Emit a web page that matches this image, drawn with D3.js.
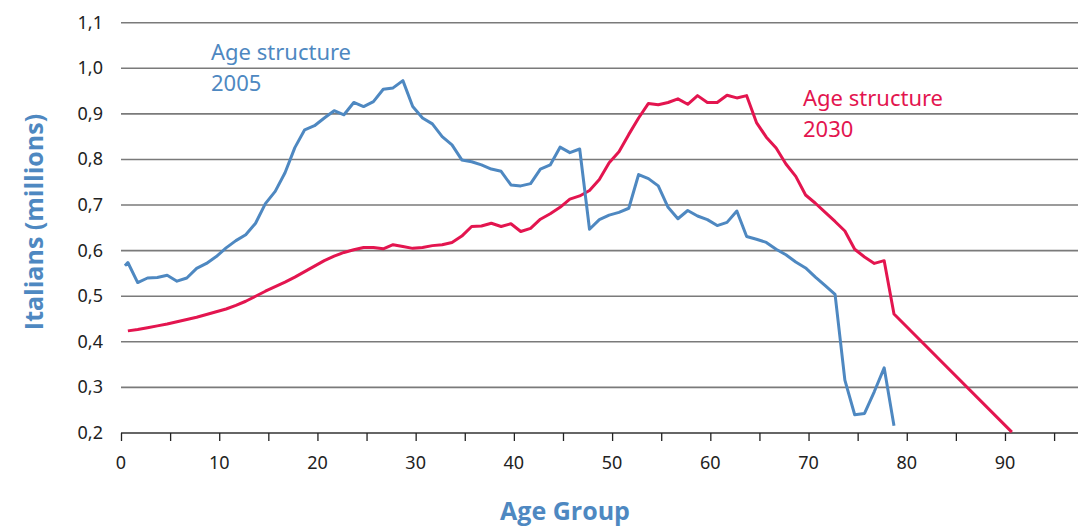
<!DOCTYPE html>
<html><head><meta charset="utf-8">
<script src="https://cdn.jsdelivr.net/npm/d3@7"></script>
<style>body{margin:0;background:#fff}svg{display:block}</style>
</head><body>
<svg id="c" width="1078" height="529"></svg>
<script>
// ---- data ----
const yTicks = [0.2,0.3,0.4,0.5,0.6,0.7,0.8,0.9,1.0,1.1];
const xTicks = [0,10,20,30,40,50,60,70,80,90];
const ages2005 = [0.7].concat(d3.range(1, 80));
const values2005 = [0.567,0.574,0.530,0.540,0.541,0.546,0.533,0.540,0.561,0.572,
  0.587,0.606,0.622,0.635,0.660,0.703,0.730,0.771,0.826,0.865,
  0.874,0.891,0.907,0.898,0.925,0.916,0.927,0.954,0.957,0.973,
  0.916,0.891,0.878,0.850,0.832,0.799,0.795,0.788,0.779,0.774,
  0.744,0.742,0.747,0.779,0.788,0.827,0.815,0.823,0.647,0.668,
  0.678,0.684,0.693,0.767,0.758,0.742,0.695,0.670,0.688,0.676,
  0.668,0.655,0.662,0.687,0.631,0.625,0.618,0.603,0.591,0.575,
  0.562,0.542,0.523,0.504,0.316,0.240,0.243,0.291,0.343,0.216];
const ages2030 = d3.range(1, 80).concat([91]);
const values2030 = [0.424,0.427,0.431,0.435,0.439,0.444,0.449,0.454,0.460,
  0.466,0.472,0.480,0.489,0.500,0.511,0.521,0.531,0.542,0.554,
  0.566,0.578,0.588,0.596,0.602,0.607,0.607,0.604,0.613,0.609,
  0.605,0.607,0.611,0.613,0.618,0.632,0.653,0.654,0.660,0.653,
  0.659,0.642,0.649,0.669,0.681,0.695,0.713,0.720,0.732,0.756,
  0.793,0.817,0.855,0.891,0.923,0.920,0.925,0.933,0.921,0.940,
  0.925,0.925,0.941,0.935,0.940,0.881,0.849,0.825,0.790,0.763,
  0.722,0.704,0.684,0.664,0.643,0.603,0.586,0.572,0.578,0.461,
  0.202];

// ---- layout ----
const svg = d3.select('#c');
const pL = 121, pR = 1078, pT = 22.7, pB = 433;
const pxPerYear = 9.822;
const x = d3.scaleLinear().domain([0, (pR-pL)/pxPerYear]).range([pL, pR]);
const y = d3.scaleLinear().domain([0.2, 1.1]).range([pB, pT]);
const shift = -0.3; // points sit slightly left of age ticks
const blue = '#4e88c1', red = '#e3154f';

// gridlines
svg.append('g').selectAll('line').data(yTicks.filter(d => d > 0.2)).join('line')
  .attr('x1', pL).attr('x2', pR)
  .attr('y1', d => y(d)).attr('y2', d => y(d))
  .attr('stroke', '#7a7a7a').attr('stroke-width', 1.6);

// y labels
svg.append('g').selectAll('text').data(yTicks).join('text')
  .attr('x', 103).attr('y', d => y(d) + 6)
  .attr('text-anchor', 'end')
  .attr('font-family', 'Noto Sans').attr('font-size', 18).attr('fill', '#222')
  .text(d => d3.format('.1f')(d).replace('.', ','));

// x axis
const xAxis = d3.axisBottom(x).tickValues(d3.range(0, 100, 5)).tickSize(8).tickFormat('');
const gx = svg.append('g').attr('transform', `translate(0,${pB})`).call(xAxis);
gx.select('.domain').attr('stroke', '#333').attr('stroke-width', 1.6).attr('d', `M${pL},0H${pR}`);
gx.selectAll('.tick line').attr('stroke', '#222').attr('stroke-width', 1.3);
svg.append('g').selectAll('text').data(xTicks).join('text')
  .attr('x', d => x(d)).attr('y', pB + 36)
  .attr('text-anchor', 'middle')
  .attr('font-family', 'Noto Sans').attr('font-size', 18).attr('fill', '#222')
  .text(d => d);

// lines
const line = d3.line().x(d => x(d[0] + shift)).y(d => y(d[1]));
svg.append('path').datum(d3.zip(ages2030, values2030))
  .attr('d', line).attr('fill', 'none').attr('stroke', red)
  .attr('stroke-width', 3).attr('stroke-linejoin', 'round');
svg.append('path').datum(d3.zip(ages2005, values2005))
  .attr('d', line).attr('fill', 'none').attr('stroke', blue)
  .attr('stroke-width', 3).attr('stroke-linejoin', 'round');

// annotations
function label(tx, ty, lines, color) {
  const t = svg.append('text').attr('font-family', 'Noto Sans').attr('font-size', 22)
    .attr('fill', color);
  lines.forEach((s, i) => t.append('tspan').attr('x', tx).attr('y', ty + i * 31).text(s));
}
label(211, 60, ['Age structure', '2005'], blue);
label(803, 106, ['Age structure', '2030'], red);

// axis titles
svg.append('text').attr('x', 565).attr('y', 520).attr('text-anchor', 'middle')
  .attr('font-family', 'Open Sans').attr('font-weight', 'bold').attr('font-size', 25)
  .attr('fill', blue).text('Age Group');
svg.append('text').attr('transform', 'translate(43,222) rotate(-90)')
  .attr('text-anchor', 'middle')
  .attr('font-family', 'Open Sans').attr('font-weight', 'bold').attr('font-size', 25)
  .attr('fill', blue).text('Italians (millions)');
</script>
</body></html>
